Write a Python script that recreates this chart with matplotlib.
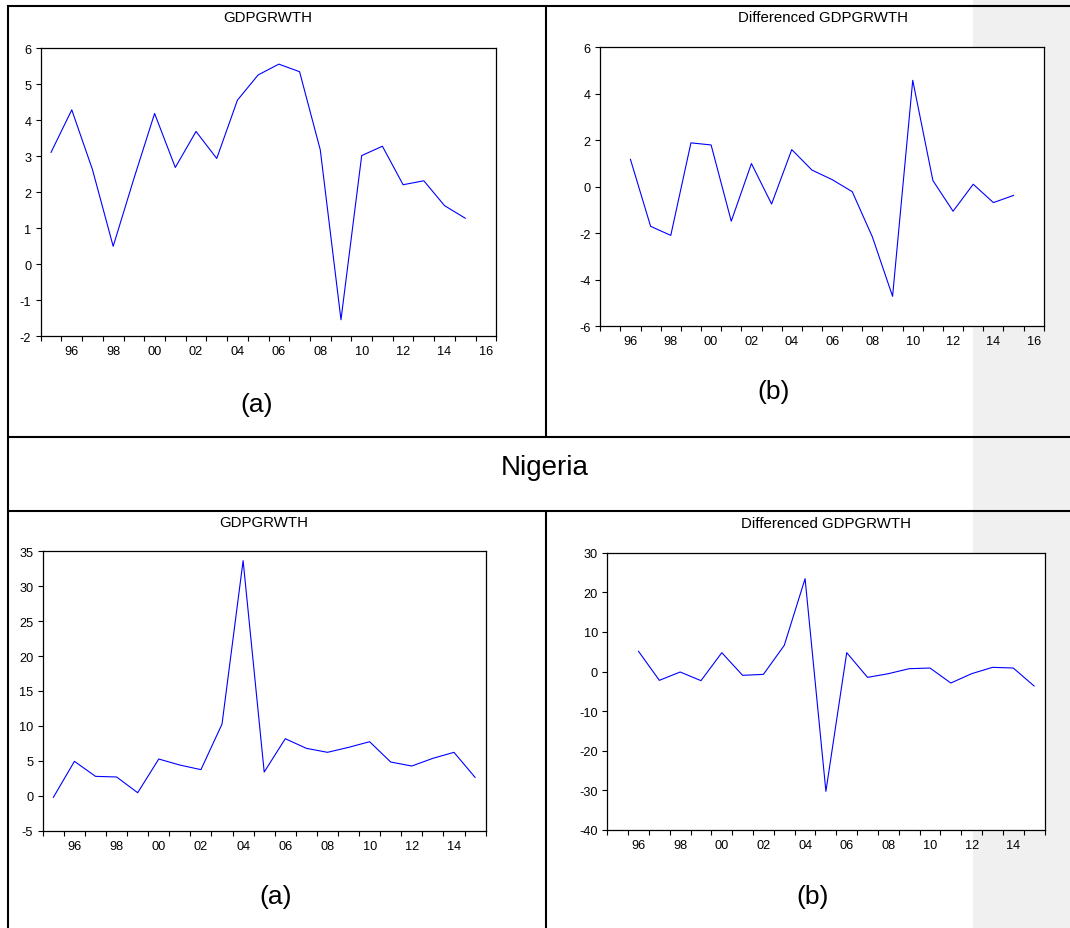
import matplotlib

matplotlib.use("Agg")
import matplotlib.pyplot as plt
import numpy as np

plt.rcParams["font.family"] = ["Liberation Sans", "DejaVu Sans"]
plt.rcParams["axes.unicode_minus"] = False

W, H = 1070, 929

# ---- data ----
years_lvl = np.arange(1995, 2016)      # 1995..2015
years_dif = np.arange(1996, 2016)      # 1996..2015

gdp_top = [3.11, 4.29, 2.63, 0.50, 2.38, 4.19, 2.69, 3.69, 2.94, 4.56, 5.26,
           5.56, 5.35, 3.18, -1.54, 3.02, 3.28, 2.21, 2.32, 1.63, 1.28]
diff_top = [1.18, -1.70, -2.09, 1.89, 1.80, -1.48, 1.00, -0.74, 1.60, 0.72,
            0.31, -0.21, -2.16, -4.71, 4.58, 0.27, -1.05, 0.11, -0.68, -0.37]
gdp_ng = [-0.23, 4.93, 2.78, 2.69, 0.44, 5.26, 4.40, 3.74, 10.27, 33.66, 3.40,
          8.17, 6.79, 6.22, 6.93, 7.74, 4.83, 4.26, 5.36, 6.22, 2.64]
diff_ng = [5.10, -2.22, -0.12, -2.30, 4.76, -0.96, -0.71, 6.61, 23.44, -30.24,
           4.76, -1.47, -0.54, 0.72, 0.89, -2.90, -0.54, 1.06, 0.89, -3.65]

yt_top_lvl = np.arange(-2, 7, 1)
yt_top_dif = np.arange(-6, 7, 2)
yt_ng_lvl = np.arange(-5, 36, 5)
yt_ng_dif = np.arange(-40, 31, 10)

fig = plt.figure(figsize=(W / 100, H / 100), dpi=100)
fig.patch.set_facecolor("white")

# background layer in pixel coordinates: table lines, grey strip, captions
bg = fig.add_axes([0, 0, 1, 1], zorder=0)
bg.set_xlim(0, W); bg.set_ylim(H, 0); bg.axis("off")
bg.axvspan(973, W, color="#f0f0f0", lw=0)
lk = dict(color="black", lw=1.5, solid_capstyle="butt")
bg.plot([7, W], [7, 7], **lk)
bg.plot([8, 8], [6, H], **lk)
bg.plot([545.5, 545.5], [7, 438], **lk)
bg.plot([545.5, 545.5], [512, H], **lk)
bg.plot([7, W], [438, 438], **lk)
bg.plot([7, W], [512, 512], **lk)
bg.text(545, 475, "Nigeria", fontsize=20, ha="center", va="baseline")


def panel(box, years, vals, span, yticks, title, title_xy, tag, tag_xy):
    l, t, r, b = box
    ax = fig.add_axes([l / W, 1 - b / H, (r - l) / W, (b - t) / H], zorder=2)
    ax.set_facecolor("white")
    ax.plot(years, vals, color="#0000ff", lw=0.8)
    ax.set_xlim(span[0] - .5, span[1] + .5)
    ax.set_ylim(yticks[0], yticks[-1])
    ax.set_yticks(yticks)
    lab = np.arange(1996, span[1] + 1, 2)
    ax.set_xticks(lab)
    ax.set_xticklabels([f"{y % 100:02d}" for y in lab])
    ax.set_xticks(np.arange(span[0] - .5, span[1] + 1), minor=True)
    ax.tick_params(axis="x", which="major", length=0, pad=6.6, labelsize=9.2)
    ax.tick_params(axis="x", which="minor", length=3.6, width=0.8, direction="out")
    ax.tick_params(axis="y", length=3.4, width=0.8, pad=3.4, direction="out",
                   labelsize=9.2)
    for s in ax.spines.values():
        s.set_linewidth(0.9)
    bg.text(title_xy[0], title_xy[1], title, fontsize=10.8, ha="center",
            va="baseline")
    bg.text(tag_xy[0], tag_xy[1], tag, fontsize=19, ha="center", va="baseline")
    return ax


panel((40.7, 49.3, 496.3, 337.3), years_lvl, gdp_top, (1995, 2016), yt_top_lvl,
      "GDPGRWTH", (267.6, 22), "(a)", (257, 411.7))
panel((600.2, 48.3, 1043.8, 327.3), years_dif, diff_top, (1995, 2016), yt_top_dif,
      "Differenced GDPGRWTH", (823, 22), "(b)", (774, 399.5))
panel((42.8, 552.3, 485.6, 831.7), years_lvl, gdp_ng, (1995, 2015), yt_ng_lvl,
      "GDPGRWTH", (264, 527.3), "(a)", (276, 904.5))
panel((607.3, 553.7, 1044.5, 831.0), years_dif, diff_ng, (1995, 2015), yt_ng_dif,
      "Differenced GDPGRWTH", (826, 528.3), "(b)", (813, 904.5))

fig.savefig("out.png", dpi=100)
